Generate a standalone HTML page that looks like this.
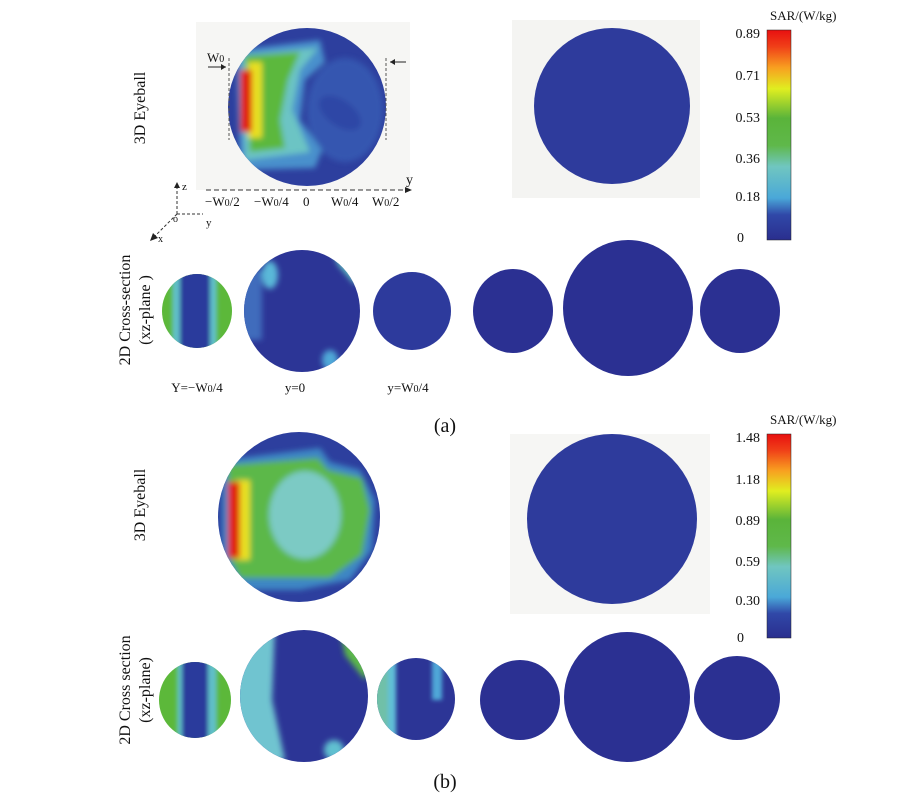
<!DOCTYPE html><html><head><meta charset="utf-8"><style>body{margin:0;background:#fff}svg{display:block}text{font-family:"Liberation Serif","Noto Serif CJK SC",serif;fill:#111}</style></head><body>
<svg width="900" height="800" viewBox="0 0 900 800" xmlns="http://www.w3.org/2000/svg">
<defs>
<linearGradient id="cb" x1="0" y1="1" x2="0" y2="0">
<stop offset="0" stop-color="#2a2e8e"/><stop offset="0.12" stop-color="#3048a8"/><stop offset="0.2" stop-color="#4aa8d8"/><stop offset="0.35" stop-color="#70c6c0"/><stop offset="0.45" stop-color="#5fb84a"/><stop offset="0.58" stop-color="#5ab43a"/><stop offset="0.72" stop-color="#e0ee20"/><stop offset="0.82" stop-color="#f8a020"/><stop offset="0.92" stop-color="#f04018"/><stop offset="1" stop-color="#e81010"/>
</linearGradient>
<filter id="bl" x="-20%" y="-20%" width="140%" height="140%"><feGaussianBlur stdDeviation="3"/></filter>
<filter id="bl2" x="-20%" y="-20%" width="140%" height="140%"><feGaussianBlur stdDeviation="2"/></filter>
<clipPath id="ca"><circle cx="307" cy="107" r="79"/></clipPath>
<clipPath id="cbb"><ellipse cx="299" cy="517" rx="81" ry="85"/></clipPath>
<clipPath id="c1"><ellipse cx="197" cy="311" rx="35" ry="37"/></clipPath>
<clipPath id="c2"><ellipse cx="302" cy="311" rx="58" ry="61"/></clipPath>
<clipPath id="d1"><ellipse cx="195" cy="700" rx="36" ry="38"/></clipPath>
<clipPath id="d2"><ellipse cx="304" cy="696" rx="64" ry="66"/></clipPath>
<clipPath id="d3"><ellipse cx="416" cy="699" rx="39" ry="41"/></clipPath>
</defs>
<rect x="196" y="22" width="214" height="168" fill="#f6f6f4"/>
<rect x="512" y="20" width="188" height="178" fill="#f4f4f2"/>
<g clip-path="url(#ca)">
<rect x="220" y="20" width="180" height="180" fill="#2d3f9e"/>
<g filter="url(#bl)">
<ellipse cx="345" cy="110" rx="38" ry="52" fill="#3656b0"/>
<path d="M236 50 L320 40 L325 62 L305 80 L300 120 L322 150 L315 168 L240 170 Z" fill="#4a90cc"/>
<path d="M242 55 L318 48 L300 70 L292 110 L310 152 L245 160 Z" fill="#6cc4c4"/>
<path d="M245 56 L300 52 L288 80 L280 120 L285 148 L250 152 Z" fill="#5cb83e"/>
<rect x="248" y="62" width="14" height="76" fill="#e8e020"/>
<rect x="240" y="70" width="12" height="62" fill="#e02010"/>
<ellipse cx="340" cy="113" rx="24" ry="13" fill="#2f47a6" transform="rotate(35 340 113)"/>
</g>
</g>
<circle cx="612" cy="106" r="78" fill="#2e3b9c"/>
<text x="207" y="62" font-size="13">W<tspan font-size="10">0</tspan></text>
<path d="M208 67h18" stroke="#222"/><path d="M226 67l-5-3v6z" fill="#222"/>
<path d="M229 58v82M386 58v82" stroke="#555" stroke-dasharray="3,2"/>
<path d="M390 62h16" stroke="#222"/><path d="M390 62l5-3v6z" fill="#222"/>
<path d="M206 190h200" stroke="#333" stroke-dasharray="5,3"/><path d="M412 190l-7-3v6z" fill="#222"/>
<text x="406" y="184" font-size="14">y</text>
<g font-size="13"><text x="205" y="206">−W<tspan font-size="10">0</tspan>/2</text><text x="254" y="206">−W<tspan font-size="10">0</tspan>/4</text><text x="303" y="206">0</text><text x="331" y="206">W<tspan font-size="10">0</tspan>/4</text><text x="372" y="206">W<tspan font-size="10">0</tspan>/2</text></g>
<path d="M177 214v-28" stroke="#333" stroke-dasharray="3,2"/><path d="M177 182l-3 6h6z" fill="#222"/><text x="182" y="190" font-size="11">z</text>
<path d="M177 214h26" stroke="#333" stroke-dasharray="3,2"/><text x="206" y="226" font-size="11">y</text><text x="173" y="222" font-size="10">o</text>
<path d="M177 214l-24 24" stroke="#333" stroke-dasharray="3,2"/><path d="M150 241l3-8 5 5z" fill="#222"/><text x="158" y="242" font-size="10">x</text>
<text transform="translate(145,108) rotate(-90)" font-size="16" text-anchor="middle">3D Eyeball</text>
<text transform="translate(130,310) rotate(-90)" font-size="16" text-anchor="middle">2D Cross-section</text>
<text transform="translate(150,310) rotate(-90)" font-size="16" text-anchor="middle">(xz-plane )</text>
<g clip-path="url(#c1)"><rect x="150" y="260" width="100" height="100" fill="#5cb83a"/><g filter="url(#bl2)"><rect x="172" y="260" width="45" height="100" fill="#60c0c8"/><rect x="180" y="260" width="30" height="100" fill="#2c3a9c"/></g></g>
<g clip-path="url(#c2)"><rect x="240" y="245" width="130" height="130" fill="#2c3596"/><g filter="url(#bl)"><rect x="240" y="270" width="22" height="70" fill="#3f6cbc"/><ellipse cx="270" cy="275" rx="8" ry="14" fill="#5ab8d8"/><path d="M330 245 L362 262 L355 285 L338 265 Z" fill="#60c0c0"/><ellipse cx="330" cy="360" rx="8" ry="10" fill="#50a8d8"/></g></g>
<ellipse cx="412" cy="311" rx="39" ry="39" fill="#2d3a9c"/>
<ellipse cx="513" cy="311" rx="40" ry="42" fill="#2b3092"/>
<ellipse cx="628" cy="308" rx="65" ry="68" fill="#2b3092"/>
<ellipse cx="740" cy="311" rx="40" ry="42" fill="#2b3092"/>
<g font-size="13" text-anchor="middle"><text x="197" y="392">Y=−W<tspan font-size="10">0</tspan>/4</text><text x="295" y="392">y=0</text><text x="408" y="392">y=W<tspan font-size="10">0</tspan>/4</text></g>
<text x="445" y="432" font-size="20" text-anchor="middle">(a)</text>
<rect x="767" y="30" width="24" height="210" fill="url(#cb)" stroke="#222" stroke-width="0.5"/>
<text x="770" y="20" font-size="13">SAR/(W/kg)</text>
<g font-size="14" text-anchor="end"><text x="760" y="38">0.89</text><text x="760" y="80">0.71</text><text x="760" y="122">0.53</text><text x="760" y="163">0.36</text><text x="760" y="201">0.18</text><text x="744" y="242">0</text></g>
<rect x="510" y="434" width="200" height="180" fill="#f6f6f4"/>
<g clip-path="url(#cbb)">
<rect x="210" y="425" width="180" height="185" fill="#2d3f9e"/>
<g filter="url(#bl)">
<path d="M222 460 L320 448 L330 462 L360 470 L375 500 L372 550 L350 580 L300 590 L240 590 L222 560 Z" fill="#3e86c4"/>
<path d="M228 465 L318 458 L328 470 L362 478 L370 510 L362 555 L330 578 L240 578 L228 555 Z" fill="#5cb848"/>
<ellipse cx="305" cy="515" rx="36" ry="44" fill="#7ccac4"/>
<rect x="236" y="480" width="14" height="80" fill="#e8e020"/>
<rect x="228" y="482" width="12" height="76" fill="#e02010"/>
</g>
</g>
<circle cx="612" cy="519" r="85" fill="#2e3b9c"/>
<text transform="translate(145,505) rotate(-90)" font-size="16" text-anchor="middle">3D Eyeball</text>
<text transform="translate(130,690) rotate(-90)" font-size="16" text-anchor="middle">2D Cross section</text>
<text transform="translate(150,690) rotate(-90)" font-size="16" text-anchor="middle">(xz-plane)</text>
<g clip-path="url(#d1)"><rect x="150" y="655" width="100" height="100" fill="#5cb83a"/><g filter="url(#bl2)"><rect x="177" y="655" width="40" height="100" fill="#60c0c8"/><rect x="182" y="655" width="26" height="100" fill="#2c3a9c"/></g></g>
<g clip-path="url(#d2)"><rect x="235" y="625" width="140" height="140" fill="#2c3596"/><g filter="url(#bl)"><path d="M235 625 L275 625 L272 700 L285 760 L235 765 Z" fill="#70c4d0"/><path d="M340 630 L372 660 L365 680 L345 655 Z" fill="#5cb848"/><ellipse cx="334" cy="750" rx="10" ry="10" fill="#60c0d0"/></g></g>
<g clip-path="url(#d3)"><rect x="370" y="655" width="100" height="100" fill="#2c3596"/><g filter="url(#bl2)"><rect x="370" y="655" width="24" height="100" fill="#70c0a8"/><rect x="388" y="655" width="8" height="100" fill="#60c0d8"/><rect x="432" y="660" width="10" height="40" fill="#50a8d8"/></g></g>
<ellipse cx="520" cy="700" rx="40" ry="40" fill="#2b3092"/>
<ellipse cx="627" cy="697" rx="63" ry="65" fill="#2b3092"/>
<ellipse cx="737" cy="698" rx="43" ry="42" fill="#2b3092"/>
<text x="445" y="788" font-size="20" text-anchor="middle">(b)</text>
<rect x="767" y="434" width="24" height="204" fill="url(#cb)" stroke="#222" stroke-width="0.5"/>
<text x="770" y="424" font-size="13">SAR/(W/kg)</text>
<g font-size="14" text-anchor="end"><text x="760" y="442">1.48</text><text x="760" y="484">1.18</text><text x="760" y="525">0.89</text><text x="760" y="566">0.59</text><text x="760" y="605">0.30</text><text x="744" y="642">0</text></g>
</svg>
</body></html>
